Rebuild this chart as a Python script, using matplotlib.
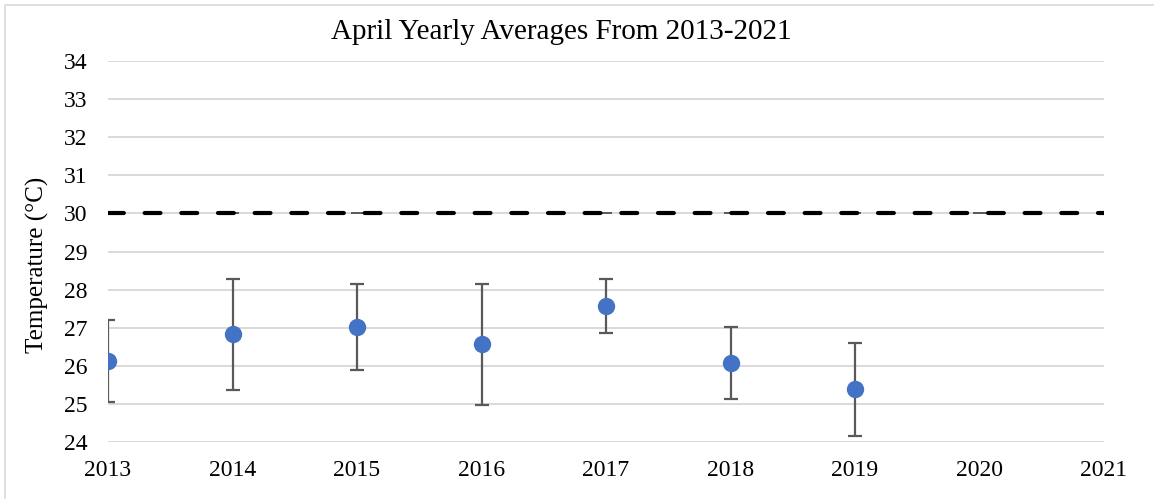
import numpy as np
import matplotlib.pyplot as plt
from matplotlib.patches import Rectangle

# April yearly averages with error bars (°C)
years = [2013, 2014, 2015, 2016, 2017, 2018, 2019]
avg_temp = [26.13, 26.83, 27.02, 26.57, 27.57, 26.07, 25.39]
temp_err = [1.08, 1.46, 1.13, 1.59, 0.72, 0.95, 1.22]

# threshold line at 30 °C across the whole range
limit_years = [2013, 2014, 2015, 2016, 2017, 2018, 2019, 2020, 2021]
limit_temp = [30, 30, 30, 30, 30, 30, 30, 30, 30]

y_ticks = list(range(24, 35))

plt.rcParams['font.family'] = ['Liberation Serif', 'DejaVu Serif']

fig = plt.figure(figsize=(11.54, 4.99), dpi=100)
ax = fig.add_axes([108 / 1154, 57 / 499, 996 / 1154, 381 / 499])

# light frame round the chart area
fig.patches.append(Rectangle((5 / 1154, -0.1), 1.2, 1 - 5 / 499 + 0.1,
                             transform=fig.transFigure, fill=False,
                             edgecolor='#d9d9d9', linewidth=1.2))

ax.set_xlim(2013, 2021)
ax.set_ylim(24, 34)
ax.set_yticks(y_ticks)
ax.set_xticks(limit_years)
ax.grid(axis='y', color='#d9d9d9', linewidth=1.4)
ax.set_axisbelow(True)
for s in ax.spines.values():
    s.set_visible(False)
ax.tick_params(length=0, labelsize=17, colors='black')
ax.tick_params(axis='y', pad=15)
ax.tick_params(axis='x', pad=13)

# small horizontal error bars under the dashed line
ax.errorbar(limit_years, limit_temp, xerr=0.05, fmt='none', ecolor='#595959',
            elinewidth=1.4, capsize=0, zorder=2)
line, = ax.plot(limit_years, limit_temp, color='black', linewidth=3,
                linestyle=(0, (3.8, 5.0)), dash_capstyle='round', zorder=3)

ax.errorbar(years, avg_temp, yerr=temp_err, fmt='o', color='#4472c4',
            markersize=11.5, ecolor='#595959', elinewidth=1.6, capsize=4.7,
            capthick=1.6, zorder=4)

fig.text(561 / 1154, 1 - 39 / 499, 'April Yearly Averages From 2013-2021',
         ha='center', va='baseline', fontsize=21)
fig.text(37 / 1154, 1 - 265 / 499, 'Temperature (°C)', rotation=90,
         ha='center', va='center', fontsize=18)

fig.savefig('out.png', dpi=100)
